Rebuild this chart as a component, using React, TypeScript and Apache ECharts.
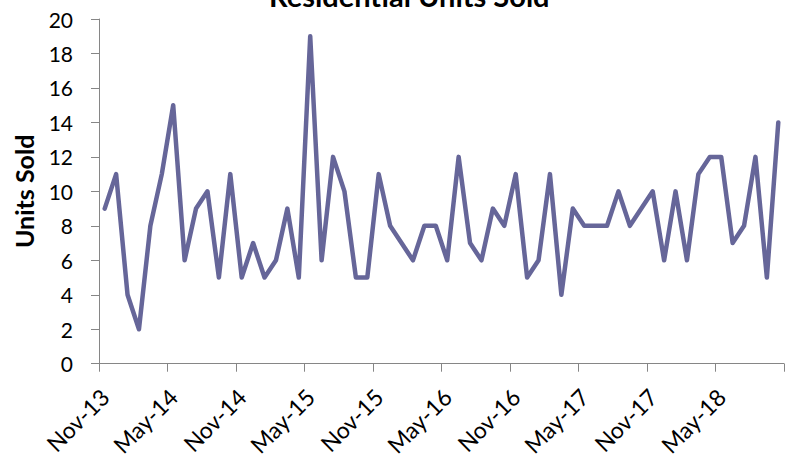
import React, { useEffect, useRef } from "react";
import * as echarts from "echarts";

const MONTHS = ["Jan", "Feb", "Mar", "Apr", "May", "Jun", "Jul", "Aug", "Sep", "Oct", "Nov", "Dec"];

// 60 monthly categories, Nov-13 .. Oct-18
const categories: string[] = [];
for (let i = 0; i < 60; i++) {
  const m = (10 + i) % 12;
  const y = 13 + Math.floor((10 + i) / 12);
  categories.push(`${MONTHS[m]}-${y}`);
}

const unitsSold = [
  9, 11, 4, 2, 8, 11, 15, 6, 9, 10,
  5, 11, 5, 7, 5, 6, 9, 5, 19, 6,
  12, 10, 5, 5, 11, 8, 7, 6, 8, 8,
  6, 12, 7, 6, 9, 8, 11, 5, 6, 11,
  4, 9, 8, 8, 8, 10, 8, 9, 10, 6,
  10, 6, 11, 12, 12, 7, 8, 12, 5, 14,
];

const titleText = "Residential Units Sold";
const yAxisName = "Units Sold";

const FONT = "Lato, 'Liberation Sans', sans-serif";

export default function App() {
  const ref = useRef<HTMLDivElement>(null);
  useEffect(() => {
    document.body.style.margin = "0";
    const chart = echarts.init(ref.current!, null, { renderer: "svg" });
    chart.setOption({
      animation: false,
      backgroundColor: "#ffffff",
      title: {
        text: titleText,
        left: 264,
        top: -24,
        textStyle: { fontFamily: FONT, fontSize: 29, fontWeight: "bold", color: "#000" },
      },
      grid: { left: 99, right: 6, top: 19, bottom: 93, containLabel: false },
      xAxis: {
        type: "category",
        data: categories,
        boundaryGap: true,
        axisLine: { lineStyle: { color: "#868686", width: 1 } },
        axisTick: { show: true, interval: 5, length: 8, lineStyle: { color: "#868686" } },
        axisLabel: {
          interval: 5,
          rotate: 45,
          margin: 29,
          fontFamily: FONT,
          fontSize: 23,
          color: "#000",
        },
        splitLine: { show: false },
      },
      yAxis: {
        type: "value",
        min: 0,
        max: 20,
        interval: 2,
        name: yAxisName,
        nameLocation: "middle",
        nameGap: 63,
        nameTextStyle: { fontFamily: FONT, fontSize: 25, fontWeight: "bold", color: "#000" },
        axisLine: { show: true, lineStyle: { color: "#868686", width: 1 } },
        axisTick: { show: true, length: 8, lineStyle: { color: "#868686" } },
        axisLabel: { margin: 26, fontFamily: FONT, fontSize: 21, color: "#000" },
        splitLine: { show: false },
      },
      series: [
        {
          type: "line",
          data: unitsSold,
          symbol: "none",
          lineStyle: { color: "#666699", width: 4.5, join: "round", cap: "round" },
        },
      ],
    });
    return () => chart.dispose();
  }, []);
  return <div ref={ref} style={{ width: 790, height: 459 }} />;
}
